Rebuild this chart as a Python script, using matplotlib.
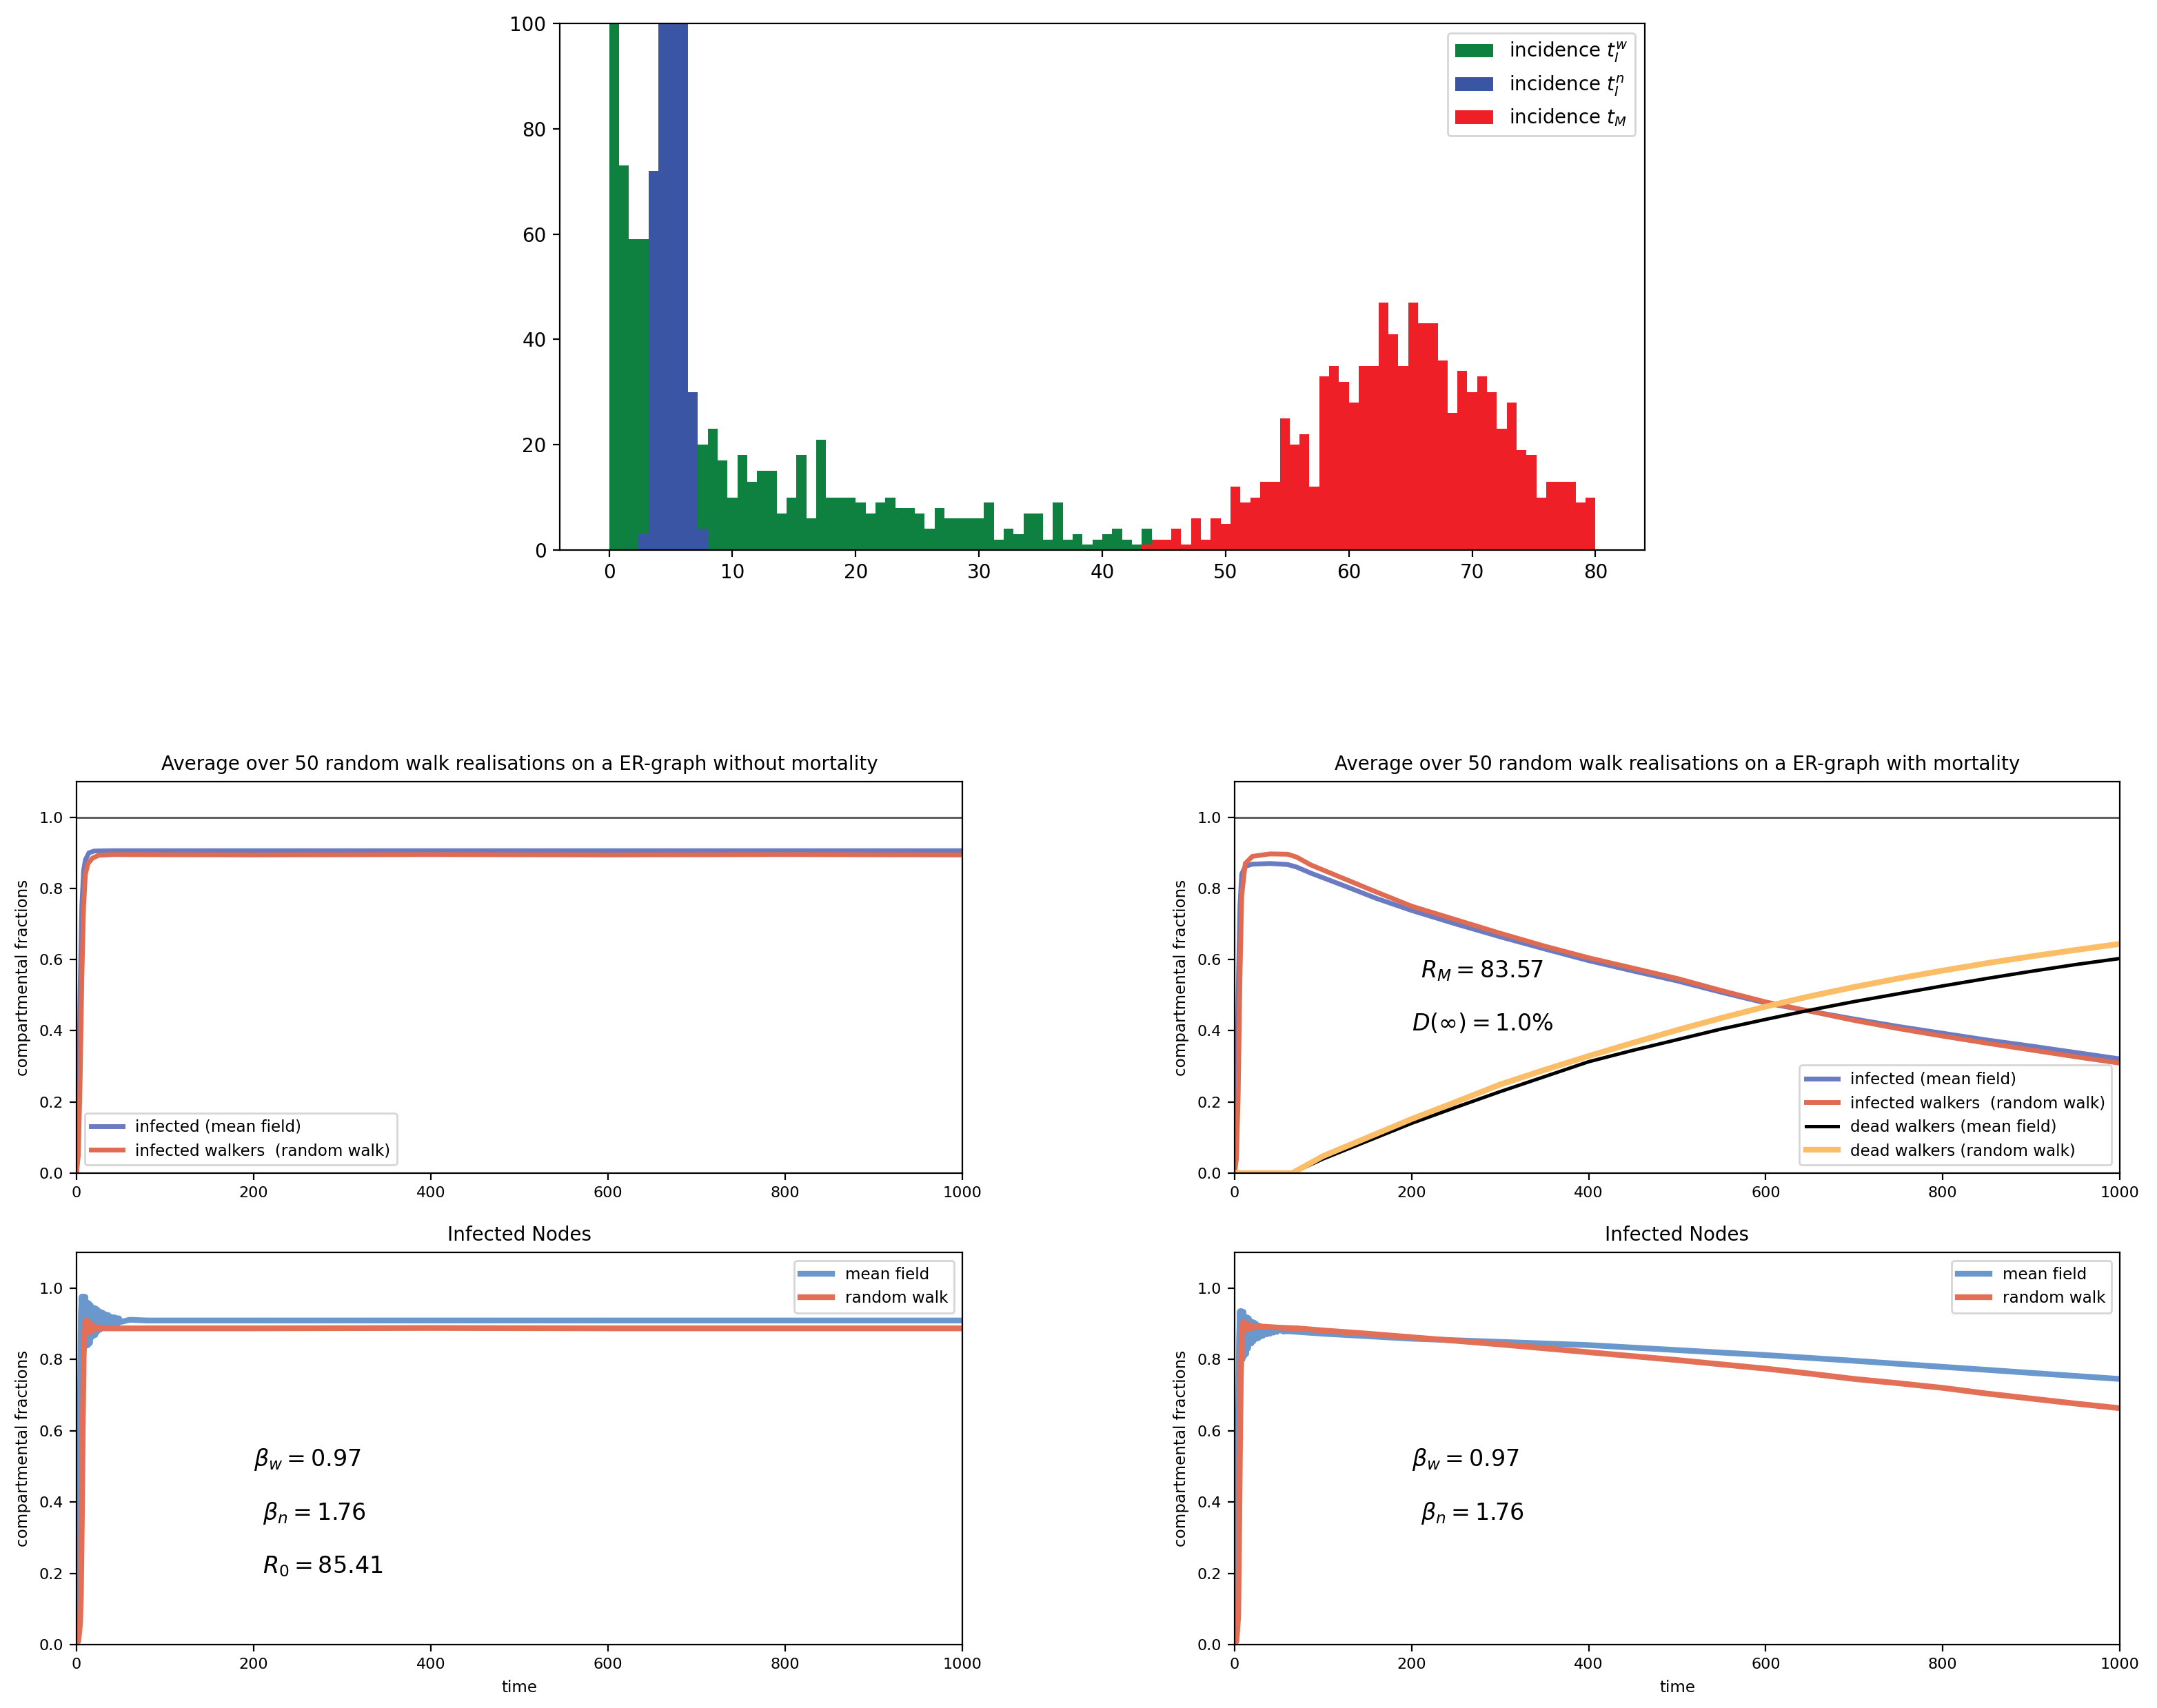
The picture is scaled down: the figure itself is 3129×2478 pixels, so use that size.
import numpy as np
import matplotlib
matplotlib.use("Agg")
import matplotlib.pyplot as plt

# ---- histogram data (bin width 0.8, counts) ----
bin_width = 0.8
green_first_bin = 0     # t_I^w starts at 0.0
blue_first_bin = 3      # t_I^n starts at 2.4
red_first_bin = 54      # t_M starts at 43.2

green_counts = [140, 73, 59, 59, 45, 38, 30, 27, 22, 20, 23, 17, 10, 18, 13, 15, 15, 7,
                10, 18, 6, 21, 10, 10, 10, 9, 7, 9, 10, 8, 8, 7, 4, 8, 6, 6, 6, 6, 9, 2,
                4, 3, 7, 7, 2, 9, 2, 3, 1, 2, 3, 4, 2, 1, 4]
blue_counts = [3, 72, 160, 190, 140, 30, 4]
red_counts = [1, 2, 2, 4, 1, 6, 2, 6, 5, 12, 9, 10, 13, 13, 25, 20, 22, 12, 33, 35, 32,
              28, 35, 35, 47, 41, 35, 47, 43, 43, 36, 26, 34, 30, 33, 30, 23, 28, 19, 18,
              10, 13, 13, 13, 9, 10]

# ---- ER graph without mortality (walkers) ----
ml_mf_t = [0, 2, 4, 6, 8, 10, 14, 20, 40, 200, 400, 600, 800, 1000]
ml_mf_v = [0, 0.15, 0.5, 0.75, 0.85, 0.88, 0.9, 0.905, 0.906, 0.906, 0.906, 0.906, 0.906, 0.906]
ml_rw_t = [0, 2, 4, 6, 8, 10, 13, 18, 25, 40, 200, 400, 600, 800, 1000]
ml_rw_v = [0, 0.05, 0.25, 0.55, 0.75, 0.84, 0.87, 0.885, 0.893, 0.895, 0.894, 0.895, 0.894, 0.895, 0.894]

# ---- ER graph with mortality (walkers) ----
mr_t = [0, 2, 4, 6, 8, 12, 20, 40, 60, 70, 86, 121, 160, 200, 250, 300, 350, 400, 450,
        500, 550, 600, 650, 700, 750, 800, 850, 900, 950, 1000]
mr_mf_v = [0, 0.15, 0.5, 0.75, 0.84, 0.862, 0.868, 0.87, 0.867, 0.86, 0.843, 0.81, 0.772,
           0.738, 0.70, 0.664, 0.63, 0.597, 0.568, 0.540, 0.508, 0.478, 0.455, 0.433, 0.412,
           0.393, 0.374, 0.357, 0.339, 0.321]
mr_rw_v = [0, 0.04, 0.22, 0.55, 0.78, 0.87, 0.89, 0.897, 0.896, 0.888, 0.866, 0.83, 0.79,
           0.75, 0.712, 0.674, 0.638, 0.605, 0.576, 0.547, 0.513, 0.481, 0.455, 0.429, 0.406,
           0.385, 0.365, 0.346, 0.327, 0.309]
dead_t = [0, 65, 100, 150, 200, 250, 300, 350, 400, 450, 500, 550, 600, 650, 700, 750, 800,
          850, 900, 950, 1000]
dead_mf_v = [0, 0, 0.04, 0.09, 0.14, 0.185, 0.229, 0.271, 0.313, 0.345, 0.375, 0.405, 0.432,
             0.458, 0.482, 0.504, 0.526, 0.547, 0.567, 0.586, 0.603]
dead_rw_v = [0, 0, 0.048, 0.1, 0.152, 0.2, 0.249, 0.29, 0.329, 0.366, 0.402, 0.436, 0.468,
             0.497, 0.523, 0.547, 0.569, 0.59, 0.609, 0.627, 0.644]

# ---- infected nodes, no mortality ----
nl_mf_t = [0, 1, 2, 3, 4, 5, 6, 7, 8, 9, 10, 11, 12, 13, 14, 15, 16, 17, 18, 19, 20, 21,
           22, 23, 24, 25, 26, 27, 28, 29, 30, 31, 32, 33, 34, 35, 36, 37, 38, 39, 40, 41,
           42, 43, 44, 45, 46, 47, 48, 50, 60, 80, 1000]
nl_mf_v = [0, 0.03, 0.12, 0.35, 0.7, 0.93, 0.976, 0.84, 0.976, 0.84, 0.975, 0.838, 0.96,
           0.84, 0.957, 0.845, 0.952, 0.862, 0.945, 0.866, 0.944, 0.868, 0.942, 0.876, 0.938,
           0.882, 0.934, 0.884, 0.932, 0.888, 0.93, 0.889, 0.926, 0.89, 0.925, 0.892, 0.924,
           0.894, 0.92, 0.896, 0.918, 0.898, 0.918, 0.9, 0.917, 0.901, 0.915, 0.902, 0.915,
           0.905, 0.911, 0.909, 0.909]
nl_rw_t = [0, 2, 4, 5, 6, 7, 8, 9, 10, 11, 12, 13, 14, 15, 16, 17, 18, 20, 22, 25, 30, 40,
           200, 400, 600, 800, 1000]
nl_rw_v = [0, 0.01, 0.06, 0.15, 0.35, 0.6, 0.8, 0.88, 0.905, 0.91, 0.88, 0.905, 0.875, 0.9,
           0.878, 0.897, 0.882, 0.893, 0.884, 0.89, 0.887, 0.887, 0.887, 0.888, 0.887, 0.887,
           0.887]

# ---- infected nodes, with mortality ----
nr_mf_t = [0, 1, 2, 3, 4, 5, 6, 7, 8, 9, 10, 11, 12, 13, 14, 15, 16, 17, 18, 19, 20, 21,
           22, 23, 24, 25, 26, 27, 28, 29, 30, 32, 34, 36, 38, 40, 42, 44, 46, 48, 50, 55,
           60, 100, 200, 300, 400, 500, 600, 700, 800, 900, 1000]
nr_mf_v = [0, 0.03, 0.12, 0.33, 0.65, 0.85, 0.935, 0.80, 0.935, 0.80, 0.933, 0.81, 0.918,
           0.815, 0.918, 0.83, 0.915, 0.843, 0.905, 0.845, 0.905, 0.85, 0.903, 0.857, 0.9,
           0.858, 0.895, 0.86, 0.894, 0.864, 0.892, 0.866, 0.89, 0.87, 0.888, 0.872, 0.887,
           0.875, 0.886, 0.877, 0.885, 0.878, 0.879, 0.872, 0.858, 0.849, 0.84, 0.826,
           0.812, 0.796, 0.779, 0.762, 0.745]
nr_rw_t = [0, 2, 4, 5, 6, 7, 8, 9, 10, 11, 12, 14, 16, 18, 20, 25, 30, 50, 70, 100, 150,
           200, 250, 300, 350, 400, 450, 500, 550, 600, 650, 700, 750, 800, 850, 900, 950,
           1000]
nr_rw_v = [0, 0.01, 0.08, 0.3, 0.55, 0.75, 0.86, 0.9, 0.905, 0.88, 0.9, 0.885, 0.897, 0.886,
           0.893, 0.89, 0.892, 0.889, 0.887, 0.881, 0.872, 0.862, 0.852, 0.842, 0.831, 0.82,
           0.809, 0.798, 0.786, 0.774, 0.76, 0.745, 0.733, 0.72, 0.704, 0.69, 0.676, 0.663]

W, H = 3129, 2478
fig = plt.figure(figsize=(W / 200, H / 200), dpi=200)


def add_ax(left, top, right, bottom):
    return fig.add_axes([left / W, 1 - bottom / H, (right - left) / W, (bottom - top) / H])


# ---- top: incidence histogram ----
ax = add_ax(812, 34, 2386, 798)
for counts, first, color, lab in [
        (green_counts, green_first_bin, "#0e8040", r"incidence $t_I^w$"),
        (blue_counts, blue_first_bin, "#3a55a4", r"incidence $t_I^n$"),
        (red_counts, red_first_bin, "#ee1f26", r"incidence $t_M$")]:
    edges = bin_width * (first + np.arange(len(counts) + 1))
    ax.stairs(counts, edges, fill=True, color=color, label=lab, linewidth=0)
ax.set_xlim(-4, 84)
ax.set_ylim(0, 100)
ax.set_xticks(range(0, 81, 10))
ax.legend(loc="upper right")

tick_fs = 8
lab_fs = 8.3
mf_blue, rw_red = "#6a7bc2", "#e06b53"
node_blue, node_red = "#6a98cc", "#e26f56"


def style(a, title, xlabel=None):
    a.set_xlim(0, 1000)
    a.set_ylim(0, 1.1)
    a.set_yticks([0, 0.2, 0.4, 0.6, 0.8, 1.0])
    a.tick_params(labelsize=tick_fs)
    a.set_ylabel("compartmental fractions", fontsize=lab_fs)
    a.set_title(title, fontsize=10)
    if xlabel:
        a.set_xlabel(xlabel, fontsize=lab_fs)


# ---- middle left ----
ax = add_ax(111, 1134, 1396, 1702)
ax.axhline(1.0, color="#555555", lw=1)
ax.plot(ml_mf_t, ml_mf_v, color=mf_blue, lw=2.5, label="infected (mean field)")
ax.plot(ml_rw_t, ml_rw_v, color=rw_red, lw=2.5, label="infected walkers  (random walk)")
style(ax, "Average over 50 random walk realisations on a ER-graph without mortality")
ax.legend(loc="lower left", fontsize=lab_fs)

# ---- middle right ----
ax = add_ax(1791, 1134, 3075, 1702)
ax.axhline(1.0, color="#555555", lw=1)
ax.plot(mr_t, mr_mf_v, color=mf_blue, lw=2.5, label="infected (mean field)")
ax.plot(mr_t, mr_rw_v, color=rw_red, lw=2.5, label="infected walkers  (random walk)")
ax.plot(dead_t, dead_mf_v, color="black", lw=1.8, label="dead walkers (mean field)")
ax.plot(dead_t, dead_rw_v, color="#fbbd66", lw=3, label="dead walkers (random walk)")
ax.text(210, 0.55, r"$R_M = 83.57$", fontsize=12)
ax.text(200, 0.4, r"$D(\infty) = 1.0\%$", fontsize=12)
style(ax, "Average over 50 random walk realisations on a ER-graph with mortality")
ax.legend(loc="lower right", fontsize=lab_fs)

# ---- bottom left ----
ax = add_ax(111, 1817, 1396, 2386)
ax.plot(nl_mf_t, nl_mf_v, color=node_blue, lw=3, label="mean field")
ax.plot(nl_rw_t, nl_rw_v, color=node_red, lw=3, label="random walk")
ax.text(200, 0.5, r"$\beta_w = 0.97$", fontsize=12)
ax.text(210, 0.35, r"$\beta_n = 1.76$", fontsize=12)
ax.text(210, 0.2, r"$R_0 = 85.41$", fontsize=12)
style(ax, "Infected Nodes", "time")
ax.legend(loc="upper right", fontsize=lab_fs)

# ---- bottom right ----
ax = add_ax(1791, 1817, 3075, 2386)
ax.plot(nr_mf_t, nr_mf_v, color=node_blue, lw=3, label="mean field")
ax.plot(nr_rw_t, nr_rw_v, color=node_red, lw=3, label="random walk")
ax.text(200, 0.5, r"$\beta_w = 0.97$", fontsize=12)
ax.text(210, 0.35, r"$\beta_n = 1.76$", fontsize=12)
style(ax, "Infected Nodes", "time")
ax.legend(loc="upper right", fontsize=lab_fs)

fig.savefig("out.png", dpi=200)
